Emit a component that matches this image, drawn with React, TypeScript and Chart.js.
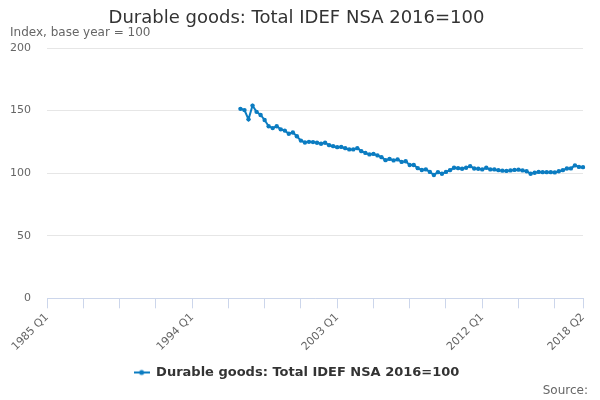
import React, { useEffect, useRef } from 'react';
import { Chart, registerables } from 'chart.js';

Chart.register(...registerables);

const TITLE = 'Durable goods: Total IDEF NSA 2016=100';
const SUBTITLE = 'Index, base year = 100';
const SERIES_NAME = 'Durable goods: Total IDEF NSA 2016=100';
const SOURCE = 'Source:';

const START_YEAR = 1985;
const END_YEAR = 2018;
const END_QUARTER = 2;
const SERIES_START = '1997 Q1';
const LABELED_TICKS = ['1985 Q1', '1994 Q1', '2003 Q1', '2012 Q1', '2018 Q2'];
const Y_MIN = 0;
const Y_MAX = 200;
const Y_STEP = 50;

// 1997 Q1 .. 2018 Q2
const values = [
  151.4, 150.4, 143.0, 154.0, 149.0, 146.5, 142.5, 137.5, 136.0, 137.5,
  135.0, 134.0, 131.5, 132.5, 129.5, 126.0, 124.5, 125.0, 124.8, 124.3,
  123.5, 124.3, 122.4, 121.6, 120.8, 121.0, 120.0, 119.0, 119.0, 120.0,
  117.6, 116.2, 115.0, 115.4, 114.2, 112.8, 110.4, 111.4, 110.2, 111.0,
  109.0, 109.5, 106.5, 106.5, 104.0, 102.5, 103.0, 101.0, 98.5, 100.8,
  99.5, 101.0, 102.4, 104.3, 104.0, 103.5, 104.3, 105.6, 103.7, 103.5,
  103.0, 104.3, 103.0, 103.0, 102.4, 102.0, 101.8, 102.2, 102.6, 102.8,
  102.2, 101.5, 99.5, 100.3, 101.0, 100.8, 100.8, 100.8, 100.6, 101.5,
  102.4, 103.7, 103.8, 106.2, 105.0, 104.8,
];

const quarters: string[] = [];
for (let y = START_YEAR; y <= END_YEAR; y++) {
  for (let q = 1; q <= 4; q++) {
    if (y === END_YEAR && q > END_QUARTER) break;
    quarters.push(`${y} Q${q}`);
  }
}

const startIndex = quarters.indexOf(SERIES_START);
const seriesData = quarters.map((_, i) =>
  i >= startIndex && i - startIndex < values.length ? values[i - startIndex] : null
);

const LINE_COLOR = '#0b7cc1';
const AXIS_COLOR = '#ccd6eb';
const GRID_COLOR = '#e6e6e6';
const TEXT_COLOR = '#666666';
const FONT = '"DejaVu Sans", sans-serif';

export default function App() {
  const canvasRef = useRef<HTMLCanvasElement | null>(null);

  useEffect(() => {
    document.body.style.margin = '0';
    const canvas = canvasRef.current;
    if (!canvas) return;

    const marker = document.createElement('canvas');
    marker.width = 16;
    marker.height = 8;
    const mctx = marker.getContext('2d');
    if (mctx) {
      mctx.strokeStyle = LINE_COLOR;
      mctx.lineWidth = 2;
      mctx.beginPath();
      mctx.moveTo(0, 4);
      mctx.lineTo(16, 4);
      mctx.stroke();
      mctx.fillStyle = LINE_COLOR;
      mctx.beginPath();
      mctx.arc(8, 4, 2.5, 0, Math.PI * 2);
      mctx.fill();
    }

    Chart.defaults.font.family = FONT;
    const lastIdx = quarters.length - 1;

    const chart = new Chart(canvas, {
      type: 'line',
      data: {
        labels: quarters,
        datasets: [
          {
            label: SERIES_NAME,
            data: seriesData,
            borderColor: LINE_COLOR,
            backgroundColor: LINE_COLOR,
            borderWidth: 2,
            pointRadius: 2.2,
            pointHoverRadius: 2.2,
            pointBackgroundColor: LINE_COLOR,
            pointBorderWidth: 0,
            tension: 0,
            spanGaps: false,
          },
        ],
      },
      options: {
        animation: false,
        responsive: true,
        maintainAspectRatio: false,
        layout: { padding: { left: 10, right: 17, top: 0, bottom: 11 } },
        plugins: {
          title: {
            display: true,
            text: TITLE,
            color: '#333333',
            font: { size: 18, weight: 'normal', lineHeight: 1 },
            padding: { top: 9, bottom: 0 },
          },
          subtitle: {
            display: true,
            text: SUBTITLE,
            align: 'start',
            color: TEXT_COLOR,
            font: { size: 12, weight: 'normal', lineHeight: 1 },
            padding: { top: 0, bottom: 9 },
          },
          legend: {
            display: true,
            position: 'bottom',
            labels: {
              color: '#333333',
              font: { size: 13, weight: 'bold' },
              usePointStyle: true,
              pointStyle: marker,
              pointStyleWidth: 16,
              padding: 10,
            },
          },
          tooltip: { enabled: false },
        },
        scales: {
          x: {
            type: 'category',
            offset: false,
            afterFit: (scale: any) => {
              scale.paddingLeft = 0;
              scale.paddingRight = 0;
            },
            grid: {
              drawOnChartArea: false,
              drawTicks: true,
              tickLength: 10,
              tickColor: (ctx: any) =>
                ctx.index % 9 === 0 || ctx.index === lastIdx ? AXIS_COLOR : 'rgba(0,0,0,0)',
            },
            border: { display: true, color: AXIS_COLOR, width: 1 },
            ticks: {
              autoSkip: false,
              maxRotation: 45,
              minRotation: 45,
              color: TEXT_COLOR,
              font: { size: 11 },
              padding: 2.5,
              callback: (_v: any, i: number) =>
                LABELED_TICKS.includes(quarters[i]) ? quarters[i] : '',
            },
          },
          y: {
            min: Y_MIN,
            max: Y_MAX,
            afterFit: (scale: any) => {
              scale.width = 37;
            },
            grid: { color: GRID_COLOR, drawTicks: false },
            border: { display: false },
            ticks: {
              stepSize: Y_STEP,
              color: TEXT_COLOR,
              font: { size: 11 },
              padding: 16,
            },
          },
        },
      },
    });

    return () => chart.destroy();
  }, []);

  return (
    <div style={{ position: 'fixed', left: 0, top: 0, width: 600, height: 400, background: '#fff' }}>
      <canvas ref={canvasRef} />
      <div
        style={{
          position: 'absolute',
          right: 12,
          top: 382,
          fontFamily: FONT,
          fontSize: 12,
          lineHeight: '16px',
          color: TEXT_COLOR,
        }}
      >
        {SOURCE}
      </div>
    </div>
  );
}
